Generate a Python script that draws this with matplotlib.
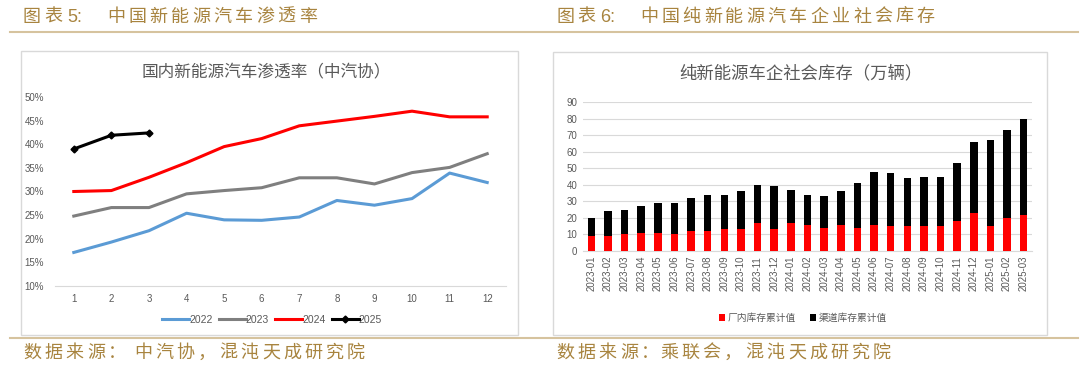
import numpy as np
import matplotlib
matplotlib.use("Agg")
import matplotlib.pyplot as plt
from matplotlib.patches import Rectangle
from matplotlib.lines import Line2D

plt.rcParams['font.family'] = ['Liberation Sans', 'Noto Sans CJK SC', 'DejaVu Sans']

# Données : taux de pénétration (%)
months = list(range(1, 13))
pen_2022 = [17.1, 19.3, 21.7, 25.4, 24.0, 23.9, 24.6, 28.1, 27.1, 28.5, 33.9, 31.9]
pen_2023 = [24.8, 26.6, 26.6, 29.5, 30.2, 30.8, 32.9, 32.9, 31.6, 34.0, 35.1, 38.0]
pen_2024 = [30.0, 30.2, 33.0, 36.1, 39.5, 41.2, 43.9, 44.9, 45.9, 47.0, 45.8, 45.8]
pen_2025 = [39.0, 41.9, 42.4]

# Données : stock (万辆)
periods = ["2023-01", "2023-02", "2023-03", "2023-04", "2023-05", "2023-06",
           "2023-07", "2023-08", "2023-09", "2023-10", "2023-11", "2023-12",
           "2024-01", "2024-02", "2024-03", "2024-04", "2024-05", "2024-06",
           "2024-07", "2024-08", "2024-09", "2024-10", "2024-11", "2024-12",
           "2025-01", "2025-02", "2025-03"]
total_stock = [20, 24, 25, 27, 29, 29, 32, 34, 34, 36, 40, 39,
               37, 34, 33, 36, 41, 48, 47, 44, 45, 45, 53, 66,
               67, 73, 80]
factory_stock = [9, 9, 10, 11, 11, 10, 12, 12, 13.3, 13.3, 17, 13.3,
                 17, 16, 14, 16, 14, 16, 15, 15, 15, 15, 18, 23,
                 15, 20, 22]
channel_stock = [t - f for t, f in zip(total_stock, factory_stock)]

W, H = 1080, 374
fig = plt.figure(figsize=(W / 100, H / 100), dpi=100)

def px_axes(x0, y0, x1, y1):
    # coordonnées en pixels (origine en haut à gauche)
    return fig.add_axes([x0 / W, 1 - y1 / H, (x1 - x0) / W, (y1 - y0) / H])

def spaced(x, y, s, pitch, **kw):
    # texte avec espacement des caractères (en pixels)
    for i, c in enumerate(s):
        fig.text((x + i * pitch) / W, 1 - y / H, c, ha="left", va="center", **kw)

head_color = "#a8843f"
txt_gray = "#595959"
hkw = dict(color=head_color, fontsize=13, family=['Noto Sans CJK SC'])

# En-têtes
spaced(23, 17, "图表", 21.3, **hkw)
fig.text(67 / W, 1 - 17 / H, "5:", color=head_color, fontsize=13, ha="left", va="center")
spaced(107, 17, "中国新能源汽车渗透率", 21.3, **hkw)
spaced(556, 17, "图表", 21.3, **hkw)
fig.text(600 / W, 1 - 17 / H, "6:", color=head_color, fontsize=13, ha="left", va="center")
spaced(640, 17, "中国纯新能源汽车企业社会库存", 21.3, **hkw)

# Sources
spaced(23, 353, "数据来源：", 21.3, **hkw)
spaced(134, 353, "中汽协，混沌天成研究院", 21.3, **hkw)
spaced(556, 353, "数据来源：", 21.3, **hkw)
spaced(660, 353, "乘联会，混沌天成研究院", 21.3, **hkw)

# Lignes dorées
fig.add_artist(Line2D([10 / W, 1078 / W], [1 - 32 / H] * 2, color="#d6c39e", lw=1.5))
fig.add_artist(Line2D([10 / W, 1078 / W], [1 - 337.5 / H] * 2, color="#d6c39e", lw=1.5))

# Cadres des graphiques
fig.add_artist(Rectangle((21 / W, 1 - 335 / H), (518 - 21) / W, (335 - 51) / H,
                         transform=fig.transFigure, fill=False, ec="#d9d9d9", lw=1))
fig.add_artist(Rectangle((553 / W, 1 - 335 / H), (1047 - 553) / W, (335 - 52) / H,
                         transform=fig.transFigure, fill=False, ec="#d9d9d9", lw=1))

# Graphique gauche
ax1 = px_axes(55, 97, 506, 286)
ax1.plot(months, pen_2022, color="#5b9bd5", lw=2.2, label="2022")
ax1.plot(months, pen_2023, color="#7f7f7f", lw=2.2, label="2023")
ax1.plot(months, pen_2024, color="#ff0000", lw=2.2, label="2024")
ax1.plot(months[:3], pen_2025, color="black", lw=2.2, marker="D", ms=3.5, label="2025")
ax1.set_xlim(0.5, 12.5)
ax1.set_ylim(10, 50)
ax1.set_xticks(months)
ax1.set_yticks(range(10, 51, 5))
ax1.set_yticklabels([f"{v}%" for v in range(10, 51, 5)])
for s in ["top", "right", "left"]:
    ax1.spines[s].set_visible(False)
ax1.spines["bottom"].set_color("#d9d9d9")
ax1.tick_params(length=0, labelsize=7, colors=txt_gray)
ax1.tick_params(axis="x", pad=6)
ax1.tick_params(axis="y", pad=8)
fig.text(266 / W, 1 - 71 / H, "国内新能源汽车渗透率（中汽协）", color=txt_gray,
         fontsize=12, ha="center", va="center")
ax1.legend(loc="center", bbox_to_anchor=(272 / W, 1 - 320 / H),
           bbox_transform=fig.transFigure, ncol=4, frameon=False,
           fontsize=7.5, handlelength=2.6, handletextpad=0.0, columnspacing=0.6,
           labelcolor=txt_gray)

# Graphique droite
ax2 = px_axes(583, 102, 1032, 251)
x = np.arange(len(periods))
ax2.bar(x, factory_stock, width=0.45, color="#ff0000", label="厂内库存累计值", zorder=3)
ax2.bar(x, channel_stock, width=0.45, bottom=factory_stock, color="black",
        label="渠道库存累计值", zorder=3)
ax2.set_xlim(-0.5, len(periods) - 0.5)
ax2.set_ylim(0, 90)
ax2.set_yticks(range(0, 91, 10))
ax2.set_xticks(x)
ax2.set_xticklabels(periods, rotation=90)
ax2.grid(axis="y", color="#d9d9d9", lw=0.8, zorder=0)
for s in ["top", "right", "left"]:
    ax2.spines[s].set_visible(False)
ax2.spines["bottom"].set_color("#d9d9d9")
ax2.tick_params(length=0, labelsize=7, colors=txt_gray)
ax2.tick_params(axis="y", pad=4)
fig.text(801 / W, 1 - 73 / H, "纯新能源车企社会库存（万辆）", color=txt_gray,
         fontsize=12.5, ha="center", va="center")
ax2.legend(loc="center", bbox_to_anchor=(803 / W, 1 - 318 / H),
           bbox_transform=fig.transFigure, ncol=2, frameon=False,
           fontsize=7, handlelength=0.6, handleheight=0.6, handletextpad=0.3,
           columnspacing=1.5, labelcolor=txt_gray)

fig.savefig("out.png", dpi=100)
